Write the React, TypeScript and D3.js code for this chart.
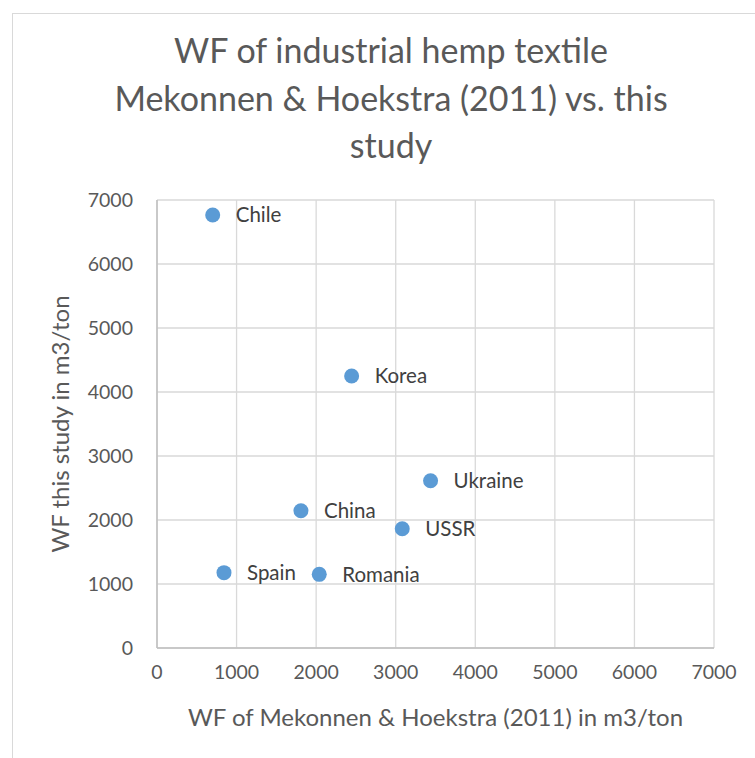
import React from "react";
import * as d3 from "d3";

const countries = ["Chile", "Korea", "Ukraine", "China", "USSR", "Spain", "Romania"];
const wfMekonnen = [700, 2446, 3438, 1809, 3082, 842, 2039];
const wfThisStudy = [6766, 4250, 2614, 2145, 1864, 1177, 1151];
const xTicks = [0, 1000, 2000, 3000, 4000, 5000, 6000, 7000];
const yTicks = [0, 1000, 2000, 3000, 4000, 5000, 6000, 7000];
const titleLines = ["WF of industrial hemp textile", "Mekonnen & Hoekstra (2011) vs. this", "study"];
const xTitle = "WF of Mekonnen & Hoekstra (2011) in m3/ton";
const yTitle = "WF this study in m3/ton";

const W = 755;
const H = 758;
const FONT = "Lato, 'Open Sans', sans-serif";

export default function App() {
  const left = 157, right = 714, top = 200, bottom = 648;
  const x = d3.scaleLinear().domain([0, 7000]).range([left, right]);
  const y = d3.scaleLinear().domain([0, 7000]).range([bottom, top]);

  return (
    <svg width={W} height={H} style={{ position: "absolute", left: 0, top: 0 }}>
      <rect x={0} y={0} width={W} height={H} fill="#fff" />
      <rect x={12.5} y={13.5} width={W + 20} height={H + 20} fill="#fff" stroke="#d9d9d9" strokeWidth={1} />
      {titleLines.map((t, i) => (
        <text key={i} x={391} y={63 + i * 47.5} textAnchor="middle" fontFamily={FONT} fontSize={34} fill="#595959">
          {t}
        </text>
      ))}
      {/* gridlines */}
      {yTicks.map((v) => (
        <line key={"gy" + v} x1={left} x2={right} y1={y(v)} y2={y(v)} stroke="#d9d9d9" strokeWidth={1.3} />
      ))}
      {xTicks.map((v) => (
        <line key={"gx" + v} x1={x(v)} x2={x(v)} y1={top} y2={bottom} stroke="#d9d9d9" strokeWidth={1.3} />
      ))}
      {/* axes */}
      <line x1={left} x2={right} y1={bottom} y2={bottom} stroke="#bfbfbf" strokeWidth={1.5} />
      <line x1={left} x2={left} y1={top} y2={bottom} stroke="#bfbfbf" strokeWidth={1.5} />
      {/* tick labels */}
      {yTicks.map((v) => (
        <text key={"ty" + v} x={133} y={y(v)} dy="0.35em" textAnchor="end" fontFamily={FONT} fontSize={19.5} fill="#595959">
          {v}
        </text>
      ))}
      {xTicks.map((v) => (
        <text key={"tx" + v} x={x(v)} y={672} dy="0.35em" textAnchor="middle" fontFamily={FONT} fontSize={19.5} fill="#595959">
          {v}
        </text>
      ))}
      {/* axis titles */}
      <text x={(left + right) / 2} y={726} textAnchor="middle" fontFamily={FONT} fontSize={24} fill="#595959">
        {xTitle}
      </text>
      <text
        transform={`translate(61,${(top + bottom) / 2}) rotate(-90)`}
        dy="0.35em"
        textAnchor="middle"
        fontFamily={FONT}
        fontSize={24}
        fill="#595959"
      >
        {yTitle}
      </text>
      {/* points */}
      {countries.map((c, i) => (
        <g key={c}>
          <circle cx={x(wfMekonnen[i])} cy={y(wfThisStudy[i])} r={7.5} fill="#5b9bd5" />
          <text x={x(wfMekonnen[i]) + 23} y={y(wfThisStudy[i])} dy="0.35em" fontFamily={FONT} fontSize={20.5} fill="#404040">
            {c}
          </text>
        </g>
      ))}
    </svg>
  );
}
